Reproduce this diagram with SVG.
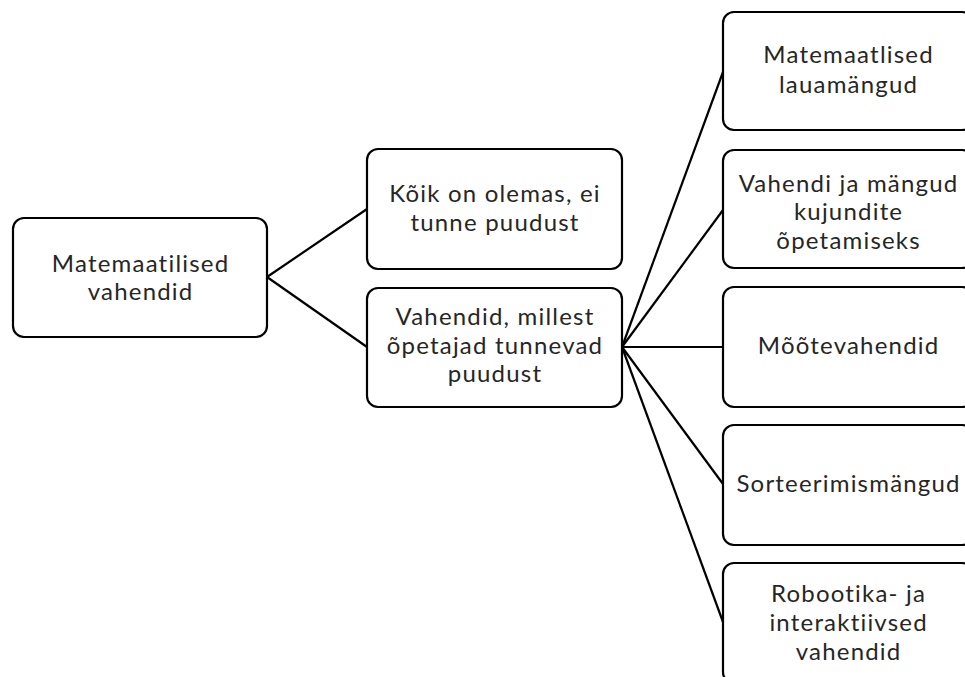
<svg xmlns="http://www.w3.org/2000/svg" width="965" height="677" viewBox="0 0 965 677">
<style>
.box{fill:#fff;stroke:#000;stroke-width:2.2}
.t{font-family:Lato,"Open Sans",sans-serif;font-size:24px;letter-spacing:1.2px;fill:#262626;text-anchor:middle}
.c{stroke:#000;stroke-width:2.2;fill:none}
</style>
<rect width="965" height="677" fill="#fff"/>
<g id="connectors">
<line class="c" x1="267" y1="277" x2="367" y2="209"/>
<line class="c" x1="267" y1="277" x2="367" y2="347"/>
<line class="c" x1="622" y1="347" x2="723" y2="72"/>
<line class="c" x1="622" y1="347" x2="723" y2="210"/>
<line class="c" x1="622" y1="347" x2="723" y2="347"/>
<line class="c" x1="622" y1="347" x2="723" y2="484"/>
<line class="c" x1="622" y1="347" x2="723" y2="622"/>
</g>
<g id="root">
<rect class="box" x="13" y="218" width="254" height="119" rx="11"/>
<text class="t" x="140.6" y="272">Matemaatilised</text>
<text class="t" x="140.6" y="300">vahendid</text>
</g>
<g id="n1">
<rect class="box" x="367" y="149" width="255" height="120" rx="11"/>
<text class="t" x="495" y="202">Kõik on olemas, ei</text>
<text class="t" x="495" y="231">tunne puudust</text>
</g>
<g id="n2">
<rect class="box" x="367" y="288" width="255" height="119" rx="11"/>
<text class="t" x="495" y="325">Vahendid, millest</text>
<text class="t" x="495" y="354">õpetajad tunnevad</text>
<text class="t" x="495" y="382">puudust</text>
</g>
<g id="r1">
<rect class="box" x="723" y="12" width="250" height="118" rx="11"/>
<text class="t" x="848.6" y="63">Matemaatlised</text>
<text class="t" x="848.6" y="93">lauamängud</text>
</g>
<g id="r2">
<rect class="box" x="723" y="150" width="250" height="118" rx="11"/>
<text class="t" x="848.6" y="192">Vahendi ja mängud</text>
<text class="t" x="848.6" y="220">kujundite</text>
<text class="t" x="848.6" y="249">õpetamiseks</text>
</g>
<g id="r3">
<rect class="box" x="723" y="287" width="250" height="120" rx="11"/>
<text class="t" x="848.6" y="354">Mõõtevahendid</text>
</g>
<g id="r4">
<rect class="box" x="723" y="425" width="250" height="120" rx="11"/>
<text class="t" x="848.6" y="492">Sorteerimismängud</text>
</g>
<g id="r5">
<rect class="box" x="723" y="563" width="250" height="120" rx="11"/>
<text class="t" x="848.6" y="602">Robootika- ja</text>
<text class="t" x="848.6" y="631">interaktiivsed</text>
<text class="t" x="848.6" y="660">vahendid</text>
</g>
</svg>
